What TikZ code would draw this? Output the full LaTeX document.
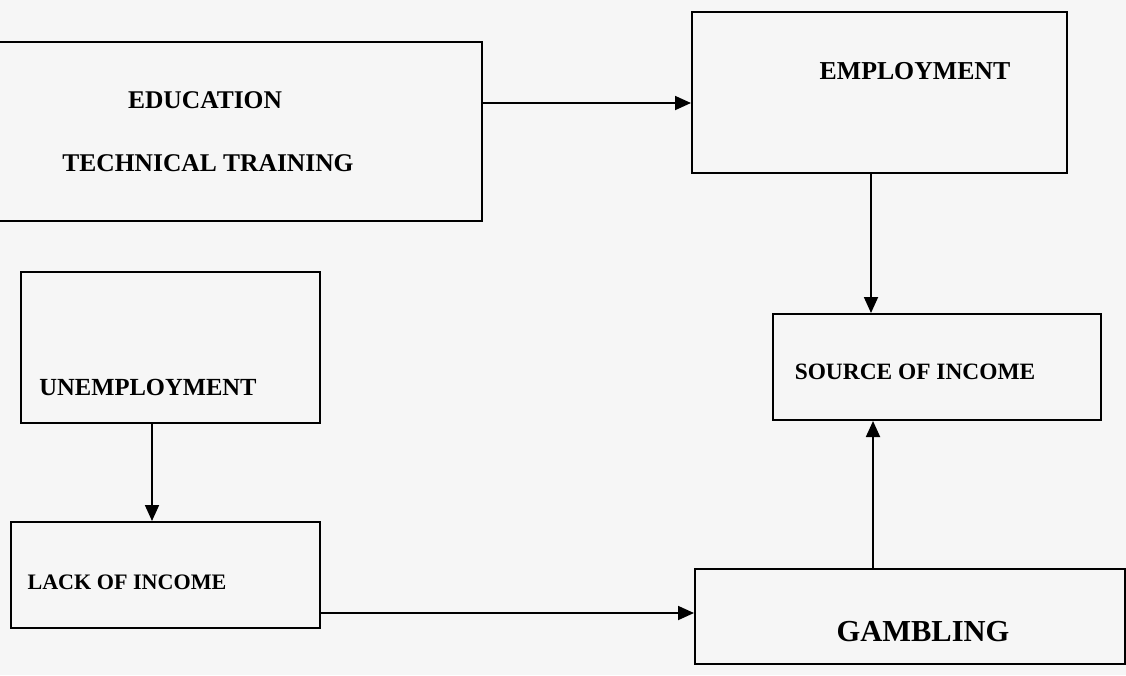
\documentclass[tikz,border=0pt]{standalone}
\usepackage{fontspec}
\setmainfont{Liberation Serif}
\usetikzlibrary{arrows.meta}
\definecolor{paper}{HTML}{F6F6F6}
\tikzset{
  box/.style={draw=black, line width=2pt, rectangle, inner sep=0pt},
  lbl/.style={inner sep=0pt, font=\bfseries},
  arr/.style={draw=black, line width=1.8pt, -{Triangle[length=16pt,width=14pt]}},
}
\newcommand{\fs}[1]{\fontsize{#1}{#1}\selectfont}
\begin{document}
\begin{tikzpicture}[x=1pt,y=-1pt]
\useasboundingbox (0,0) rectangle (1126,675);
\clip (0,0) rectangle (1126,675);
\fill[paper] (0,0) rectangle (1126,675);
% boxes
\node[box, minimum width=492pt, minimum height=179pt] (edu) at (236,131.5) {};
\node[box, minimum width=375pt, minimum height=161pt] (emp) at (879.5,92.5) {};
\node[box, minimum width=299pt, minimum height=151pt] (unemp) at (170.5,347.5) {};
\node[box, minimum width=309pt, minimum height=106pt] (lack) at (165.5,575) {};
\node[box, minimum width=328pt, minimum height=106pt] (src) at (937,367) {};
\node[box, minimum width=430pt, minimum height=95pt] (gamb) at (910,616.5) {};
% texts
\node[lbl, font=\bfseries\fs{25.5}] (tedu) at (205,100) {EDUCATION};
\node[lbl, font=\bfseries\fs{25.5}] (ttech) at (208,163) {TECHNICAL TRAINING};
\node[lbl, font=\bfseries\fs{25.8}] (temp) at (915,71) {EMPLOYMENT};
\node[lbl, font=\bfseries\fs{24.6}] (tunemp) at (148,387) {UNEMPLOYMENT};
\node[lbl, font=\bfseries\fs{23.4}] (tsrc) at (915,372) {SOURCE OF INCOME};
\node[lbl, font=\bfseries\fs{22.1}] (tlack) at (127,582) {LACK OF INCOME};
\node[lbl, font=\bfseries\fs{30.5}] (tgamb) at (923,632) {GAMBLING};
% connector guides
\coordinate (y1) at (0,103);
\coordinate (x1) at (871,0);
\coordinate (x2) at (152,0);
\coordinate (x3) at (873,0);
\coordinate (y2) at (0,613);
% connectors
\draw[arr] (edu.east |- y1) -- (emp.west |- y1);
\draw[arr] (emp.south -| x1) -- (src.north -| x1);
\draw[arr] (unemp.south -| x2) -- (lack.north -| x2);
\draw[arr] (gamb.north -| x3) -- (src.south -| x3);
\draw[arr] (lack.east |- y2) -- (gamb.west |- y2);
\end{tikzpicture}
\end{document}
